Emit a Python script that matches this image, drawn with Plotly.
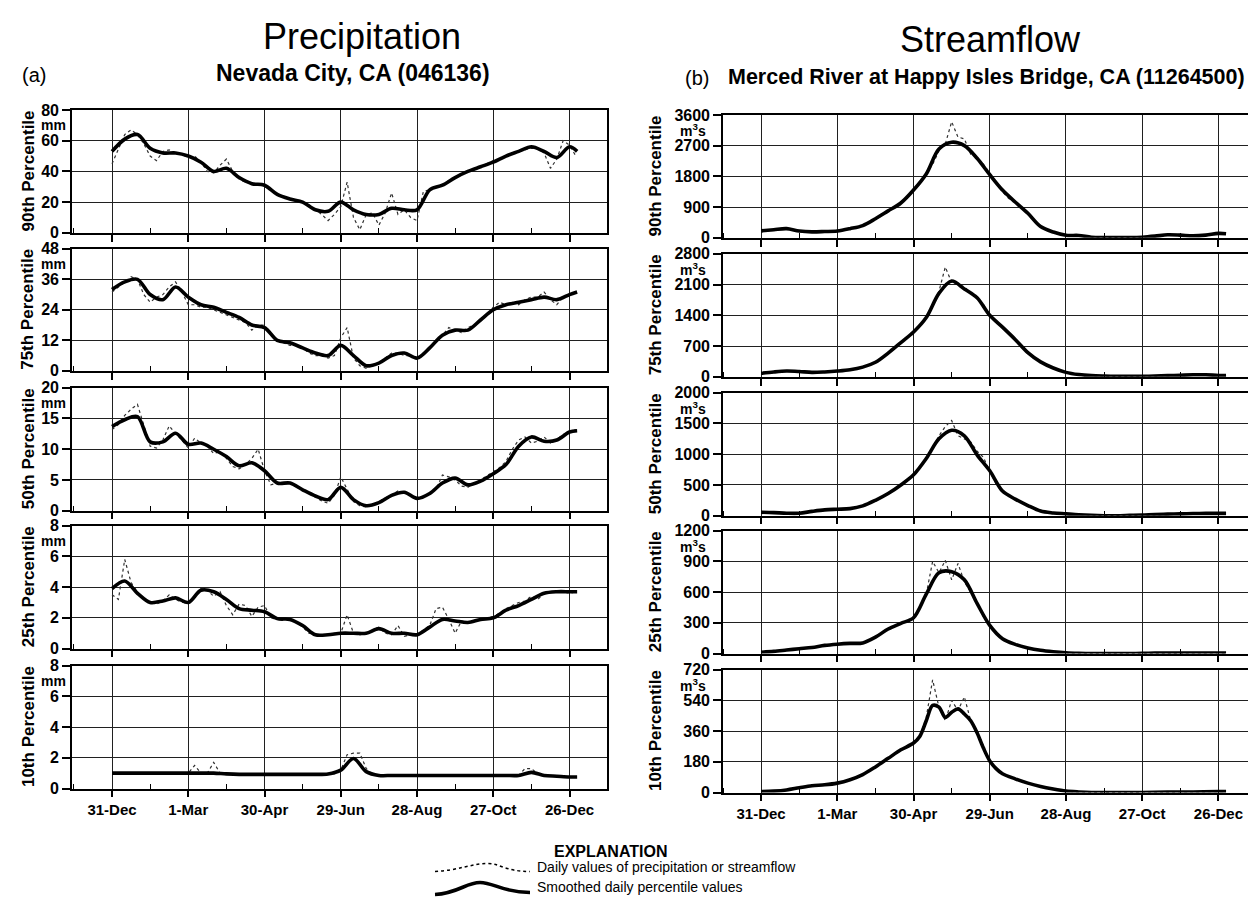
import plotly.graph_objects as go

W, H = 1256, 913

# ---------------- data ----------------
DAYS10 = [0, 10, 20, 30, 40, 50, 60, 70, 80, 90, 100, 110, 120, 130, 140, 150, 160, 170, 180, 190,
          200, 210, 220, 230, 240, 250, 260, 270, 280, 290, 300, 310, 320, 330, 340, 350, 360, 366]
DAYS5 = list(range(0, 370, 5))

TICK_DAYS = [0, 60, 120, 180, 240, 300, 360]
TICK_LABELS = ["31-Dec", "1-Mar", "30-Apr", "29-Jun", "28-Aug", "27-Oct", "26-Dec"]
MINOR_DAYS = [-30, 30, 90, 150, 210, 270, 330, 390]

ROW_LABELS = ["90th Percentile", "75th Percentile", "50th Percentile", "25th Percentile", "10th Percentile"]
PRECIP_TOPS = [80, 48, 20, 8, 8]
PRECIP_STEPS = [20, 12, 5, 2, 2]
FLOW_TOPS = [3600, 2800, 2000, 1200, 720]
FLOW_STEPS = [900, 700, 500, 300, 180]

# Precipitation (mm)
P90_SMOOTH = [53, 61, 64, 55, 52, 52, 50, 46, 40, 42,
              36, 32, 31, 25, 22, 20, 15, 14, 20, 15,
              12, 12, 16, 15, 15, 28, 31, 36, 40, 43,
              46, 50, 53, 56, 53, 49, 56, 53]
P90_DAILY = [45, 55, 64, 67, 64, 58, 50, 47, 53, 54,
             52, 51, 49, 50, 46, 40, 39, 44, 48, 40,
             35, 33, 32, 32, 30, 28, 25, 23, 22, 21,
             20, 18, 15, 12, 8, 12, 17, 33, 10, 2,
             12, 13, 5, 13, 26, 12, 15, 10, 8, 27,
             28, 30, 31, 34, 36, 38, 40, 42, 43, 45,
             47, 48, 50, 52, 53, 54, 55, 55, 52, 42,
             48, 60, 57, 50]
P75_SMOOTH = [32, 35, 36, 30, 28, 33, 29, 26, 25, 23,
              21, 18, 17, 12, 11, 9, 7, 6, 10, 6,
              2, 3, 6, 7, 5, 9, 14, 16, 16, 20,
              24, 26, 27, 28, 29, 28, 30, 31]
P75_DAILY = [31, 33, 35, 37, 36, 30, 27, 29, 30, 33,
             35, 31, 26, 26, 25, 25, 24, 23, 22, 21,
             20, 19, 16, 18, 18, 14, 12, 11, 10, 10,
             9, 7, 6, 6, 5, 6, 13, 17, 5, 2,
             1, 2, 3, 5, 7, 7, 6, 6, 5, 7,
             9, 12, 14, 17, 16, 15, 17, 18, 20, 22,
             25, 27, 26, 27, 26, 28, 29, 29, 31, 28,
             26, 29, 30, 31]
P50_SMOOTH = [13.7, 14.8, 15.3, 11.2, 11.2, 12.6, 10.8, 11.0, 10.0, 8.8,
              7.3, 7.8, 6.5, 4.5, 4.5, 3.4, 2.4, 1.8, 3.8, 1.8,
              0.8, 1.3, 2.5, 3.0, 2.0, 2.8, 4.5, 5.3, 4.2, 4.8,
              6.0, 7.5, 10.5, 12.0, 11.3, 11.5, 12.8, 13.0]
P50_DAILY = [13.2, 14.0, 15.5, 16.5, 17.3, 14.0, 10.5, 10.2, 11.5, 13.8,
             12.5, 11.5, 10.2, 11.8, 11.0, 10.5, 9.3, 9.6, 8.5, 7.2,
             6.8, 7.5, 8.5, 10.0, 6.5, 4.2, 4.5, 4.3, 4.6, 4.0,
             3.3, 2.8, 2.2, 1.6, 1.2, 2.5, 5.5, 3.5, 1.5, 0.8,
             0.6, 1.0, 1.5, 2.0, 2.6, 3.2, 2.8, 2.5, 1.8, 2.2,
             2.8, 3.5, 5.8, 5.5, 5.0, 4.0, 3.8, 4.5, 5.0, 5.7,
             6.3, 7.0, 8.0, 10.0, 11.5, 12.0, 11.0, 11.3, 12.0, 11.0,
             11.6, 12.4, 12.9, 13.2]
P25_SMOOTH = [3.9, 4.4, 3.6, 3.0, 3.1, 3.3, 3.0, 3.8, 3.7, 3.2,
              2.6, 2.5, 2.4, 1.95, 1.9, 1.5, 0.9, 0.9, 1.0, 1.0,
              1.0, 1.3, 1.0, 1.0, 0.9, 1.4, 1.9, 1.8, 1.7, 1.9,
              2.0, 2.5, 2.8, 3.2, 3.6, 3.7, 3.7, 3.7]
P25_DAILY = [3.5, 3.2, 5.8, 4.3, 3.7, 3.2, 3.0, 2.9, 3.1, 3.5,
             3.2, 3.0, 3.0, 3.4, 3.9, 3.8, 3.4, 3.7, 2.8, 2.2,
             2.9, 2.8, 2.1, 2.7, 2.8, 2.0, 1.9, 1.9, 1.9, 1.7,
             1.4, 1.0, 0.9, 0.9, 0.9, 1.0, 1.0, 2.2, 1.0, 0.9,
             1.0, 1.2, 1.4, 1.0, 0.9, 1.5, 0.8, 0.9, 0.9, 1.2,
             1.5, 2.6, 2.7, 1.9, 1.0, 1.8, 1.7, 1.8, 1.9, 2.0,
             2.1, 2.3, 2.6, 2.8, 3.0, 3.1, 3.4, 3.2, 3.6, 3.7,
             3.7, 3.7, 3.6, 3.7]
P10_SMOOTH = [1.0, 1.0, 1.0, 1.0, 1.0, 1.0, 1.0, 1.0, 1.0, 0.95,
              0.92, 0.92, 0.92, 0.92, 0.92, 0.92, 0.92, 0.95, 1.2, 1.95,
              1.1, 0.85, 0.85, 0.85, 0.85, 0.85, 0.85, 0.85, 0.85, 0.85,
              0.85, 0.85, 0.85, 1.05, 0.85, 0.8, 0.75, 0.75]
P10_DAILY = [1.0, 1.0, 1.0, 1.0, 1.0, 1.0, 1.0, 1.0, 1.0, 1.0,
             1.0, 1.0, 1.0, 1.5, 1.0, 1.0, 1.7, 1.0, 0.95, 0.92,
             0.92, 0.92, 0.92, 0.92, 0.92, 0.92, 0.92, 0.92, 0.92, 0.92,
             0.92, 0.92, 0.92, 0.92, 0.92, 0.95, 1.2, 2.2, 2.3, 2.3,
             1.3, 0.9, 0.85, 0.85, 0.85, 0.85, 0.85, 0.85, 0.85, 0.85,
             0.85, 0.85, 0.85, 0.85, 0.85, 0.85, 0.85, 0.85, 0.85, 0.85,
             0.85, 0.85, 0.85, 0.85, 0.85, 1.3, 1.3, 0.95, 0.85, 0.82,
             0.8, 0.78, 0.75, 0.75]

# Streamflow (m3/s)
S90_SMOOTH = [205, 240, 270, 200, 175, 185, 200, 270, 360, 560,
              790, 1020, 1400, 1870, 2600, 2800, 2700, 2330, 1850, 1400,
              1050, 720, 330, 170, 75, 70, 20, 10, 10, 10,
              20, 50, 90, 80, 60, 80, 130, 120]
S90_DAILY = [200, 215, 240, 265, 275, 240, 200, 180, 170, 175,
             185, 190, 200, 230, 270, 310, 360, 450, 540, 650,
             800, 880, 1050, 1200, 1380, 1600, 1900, 2150, 2550, 2750,
             3400, 2950, 2900, 2450, 2350, 2150, 1900, 1600, 1350, 1150,
             1050, 900, 700, 480, 340, 250, 170, 110, 80, 75,
             70, 50, 25, 15, 10, 10, 10, 10, 10, 15,
             20, 35, 50, 80, 95, 85, 80, 70, 60, 65,
             80, 100, 130, 120]
S75_SMOOTH = [80, 110, 130, 120, 100, 110, 130, 160, 220, 330,
              540, 780, 1020, 1350, 1900, 2180, 2000, 1800, 1400, 1130,
              850, 550, 340, 200, 100, 50, 25, 15, 10, 10,
              10, 15, 25, 35, 45, 45, 30, 30]
S75_DAILY = [80, 95, 110, 120, 130, 125, 120, 105, 100, 105,
             110, 120, 130, 145, 160, 185, 220, 270, 330, 420,
             540, 650, 780, 900, 1020, 1180, 1350, 1600, 1950, 2500,
             2150, 2100, 2050, 1900, 1800, 1650, 1400, 1250, 1130, 1000,
             850, 700, 550, 430, 340, 260, 200, 140, 100, 70,
             50, 35, 25, 18, 15, 12, 10, 10, 10, 10,
             10, 12, 15, 20, 25, 30, 35, 40, 45, 48,
             45, 38, 30, 30]
S50_SMOOTH = [55, 50, 40, 40, 70, 95, 105, 115, 160, 250,
              360, 500, 665, 930, 1250, 1390, 1300, 990, 730, 400,
              270, 165, 75, 45, 30, 15, 5, 0, 0, 5,
              10, 20, 25, 30, 35, 38, 38, 38]
S50_DAILY = [55, 52, 50, 45, 40, 38, 40, 55, 70, 85,
             95, 100, 105, 110, 115, 135, 160, 200, 250, 300,
             360, 430, 500, 580, 665, 780, 930, 1100, 1300, 1450,
             1550, 1300, 1250, 1200, 1050, 950, 720, 520, 400, 320,
             270, 220, 165, 110, 75, 55, 45, 35, 30, 20,
             15, 10, 5, 2, 0, 0, 0, 2, 5, 8,
             10, 15, 20, 22, 25, 28, 30, 32, 35, 37,
             38, 38, 38, 38]
S25_SMOOTH = [13, 22, 35, 48, 60, 80, 92, 100, 104, 160,
              240, 295, 350, 580, 790, 800, 720, 490, 275, 145,
              90, 55, 32, 18, 8, 3, 0, 0, 0, 0,
              3, 5, 6, 6, 6, 6, 5, 5]
S25_DAILY = [13, 17, 22, 28, 35, 42, 48, 55, 60, 70,
             80, 86, 92, 96, 100, 102, 104, 130, 160, 200,
             240, 270, 295, 310, 350, 450, 580, 900, 790, 910,
             720, 880, 700, 600, 490, 360, 275, 200, 145, 115,
             90, 70, 55, 42, 32, 25, 18, 12, 8, 5,
             3, 2, 0, 0, 0, 0, 0, 0, 2, 3,
             3, 4, 5, 5, 6, 6, 6, 6, 6, 6,
             6, 6, 5, 5]
S10_SMOOTH_DAYS = [0, 10, 20, 30, 40, 50, 60, 70, 80, 90, 100, 110, 120, 125, 130, 135, 140, 145,
                   150, 155, 160, 165, 170, 175, 180, 185, 190, 200, 210, 220, 230, 240, 250, 260,
                   280, 300, 320, 340, 360, 366]
S10_SMOOTH = [5, 8, 15, 28, 40, 45, 55, 75, 105, 150, 200, 250, 290, 330, 420, 510, 500, 440,
              470, 490, 460, 420, 350, 260, 185, 140, 110, 80, 55, 35, 20, 8, 3, 0,
              0, 0, 2, 3, 5, 5]
S10_DAILY = [5, 6, 8, 11, 15, 22, 28, 34, 40, 43,
             45, 50, 55, 65, 75, 90, 105, 125, 150, 175,
             200, 225, 250, 270, 290, 330, 440, 660, 500, 420,
             540, 480, 560, 420, 360, 270, 185, 140, 110, 95,
             80, 65, 55, 45, 35, 27, 20, 13, 8, 5,
             3, 2, 0, 0, 0, 0, 0, 0, 0, 0,
             0, 0, 0, 0, 2, 2, 3, 3, 3, 4,
             4, 5, 5, 5]

PRECIP = [(DAYS10, P90_SMOOTH, P90_DAILY), (DAYS10, P75_SMOOTH, P75_DAILY),
          (DAYS10, P50_SMOOTH, P50_DAILY), (DAYS10, P25_SMOOTH, P25_DAILY),
          (DAYS10, P10_SMOOTH, P10_DAILY)]
FLOW = [(DAYS10, S90_SMOOTH, S90_DAILY), (DAYS10, S75_SMOOTH, S75_DAILY),
        (DAYS10, S50_SMOOTH, S50_DAILY), (DAYS10, S25_SMOOTH, S25_DAILY),
        (S10_SMOOTH_DAYS, S10_SMOOTH, S10_DAILY)]

# ---------------- layout geometry (target pixels) ----------------
FONT = "Liberation Sans, Arial, Helvetica, sans-serif"
COLS = [
    dict(x0=72, x1=607, rng=[-31.5, 389.5], rows=[(110, 233), (249, 371), (388, 511), (526, 649), (666, 789)],
         tops=PRECIP_TOPS, steps=PRECIP_STEPS, data=PRECIP, unit="mm", unit_x=68, label_x=28),
    dict(x0=723, x1=1254, rng=[-30, 388], rows=[(115, 238), (254, 377), (393, 516), (531, 654), (670, 793)],
         tops=FLOW_TOPS, steps=FLOW_STEPS, data=FLOW, unit="m<sup>3</sup>s", unit_x=708, label_x=655),
]


def px(x):
    return (x - 8) / W


def py(y):
    return 1 - ((y - 16) / 0.982) / H


fig = go.Figure()
layout = dict(width=W, height=H, margin=dict(l=0, r=0, t=0, b=0),
              paper_bgcolor="white", plot_bgcolor="white", showlegend=False,
              font=dict(family=FONT, color="black"))
annotations = []
GRID = "#202020"

k = 0
for c, col in enumerate(COLS):
    for r in range(5):
        k += 1
        xs = "x" if k == 1 else f"x{k}"
        ys = "y" if k == 1 else f"y{k}"
        xname = "xaxis" if k == 1 else f"xaxis{k}"
        yname = "yaxis" if k == 1 else f"yaxis{k}"
        top_px, bot_px = col["rows"][r]
        top = col["tops"][r]
        step = col["steps"][r]
        yvals = list(range(0, top + 1, step))
        layout[xname] = dict(
            domain=[px(col["x0"]), px(col["x1"])], range=col["rng"], anchor=ys,
            tickvals=TICK_DAYS, ticktext=[f"<b>{t}</b>" for t in TICK_LABELS], showticklabels=(r == 4),
            ticks="outside", ticklen=7, tickwidth=1.5, tickcolor="black",
            showgrid=True, gridcolor=GRID, gridwidth=1.4,
            showline=True, mirror=True, linecolor="black", linewidth=1.6, zeroline=False,
            minor=dict(tickvals=MINOR_DAYS, ticks="inside", ticklen=5, tickwidth=1.3,
                       tickcolor="black", showgrid=False),
            tickfont=dict(family=FONT, size=15, color="black"),
        )
        layout[yname] = dict(
            domain=[py(bot_px), py(top_px)], range=[0, top], anchor=xs,
            tickvals=yvals, ticktext=[f"<b>{v}</b>" for v in yvals],
            ticks="outside", ticklen=8, tickwidth=1.5, tickcolor="black",
            showgrid=True, gridcolor=GRID, gridwidth=1.4,
            showline=True, mirror=True, linecolor="black", linewidth=1.6, zeroline=False,
            tickfont=dict(family=FONT, size=16, color="black"),
        )
        sdays, smooth, daily = col["data"][r]
        fig.add_trace(go.Scatter(x=DAYS5, y=daily, mode="lines", xaxis=xs, yaxis=ys,
                                 line=dict(color="#303030", width=1.2, dash="dot"), hoverinfo="skip"))
        fig.add_trace(go.Scatter(x=sdays, y=smooth, mode="lines", xaxis=xs, yaxis=ys,
                                 line=dict(color="black", width=3.6, shape="spline", smoothing=0.9),
                                 hoverinfo="skip"))
        # unit label under the top tick label
        annotations.append(dict(text=f"<b>{col['unit']}</b>", x=px(col["unit_x"]), y=py(top_px + 15),
                                xanchor="right", font=dict(family=FONT, size=14)))
        # row label
        annotations.append(dict(text=f"<b>{ROW_LABELS[r]}</b>", x=px(col["label_x"]),
                                y=py((top_px + bot_px) / 2), textangle=-90,
                                font=dict(family=FONT, size=17)))

# titles, subtitles and explanation
annotations += [
    dict(text="Precipitation", x=px(362), y=py(37), font=dict(family=FONT, size=36)),
    dict(text="Streamflow", x=px(990), y=py(40), font=dict(family=FONT, size=36)),
    dict(text="(a)", x=px(34), y=py(75), font=dict(family=FONT, size=20)),
    dict(text="<b>Nevada City, CA (046136)</b>", x=px(353), y=py(73), font=dict(family=FONT, size=23)),
    dict(text="(b)", x=px(697), y=py(78), font=dict(family=FONT, size=20)),
    dict(text="<b>Merced River at Happy Isles Bridge, CA (11264500)</b>", x=px(726), y=py(77),
         xanchor="left", font=dict(family=FONT, size=21.5)),
    dict(text="<b>EXPLANATION</b>", x=px(610), y=py(852), font=dict(family=FONT, size=16)),
    dict(text="Daily values of precipitation or streamflow", x=px(535), y=py(868), xanchor="left",
         font=dict(family=FONT, size=14)),
    dict(text="Smoothed daily percentile values", x=px(535), y=py(888), xanchor="left",
         font=dict(family=FONT, size=14)),
]
for a in annotations:
    a.setdefault("xref", "paper")
    a.setdefault("yref", "paper")
    a.setdefault("showarrow", False)
    a.setdefault("xanchor", "center")
    a.setdefault("yanchor", "middle")
    a["font"].setdefault("color", "black")
layout["annotations"] = annotations


def path(points):
    (x0, y0) = points[0]
    s = f"M {px(x0):.5f},{py(y0):.5f}"
    for i in range(1, len(points), 3):
        seg = points[i:i + 3]
        s += " C " + " ".join(f"{px(a):.5f},{py(b):.5f}" for a, b in seg)
    return s


# legend key curves (decoration)
dotted_key = [(435, 872), (458, 871), (472, 864), (488, 864), (500, 864), (505, 872), (530, 872)]
solid_key = [(435, 895), (458, 894), (466, 883), (480, 883), (494, 883), (502, 893), (530, 893)]
layout["shapes"] = [
    dict(type="path", path=path(dotted_key), xref="paper", yref="paper",
         line=dict(color="black", width=1.5, dash="dot")),
    dict(type="path", path=path(solid_key), xref="paper", yref="paper",
         line=dict(color="black", width=3.6)),
]

fig.update_layout(**layout)
fig.write_html("out.html")
